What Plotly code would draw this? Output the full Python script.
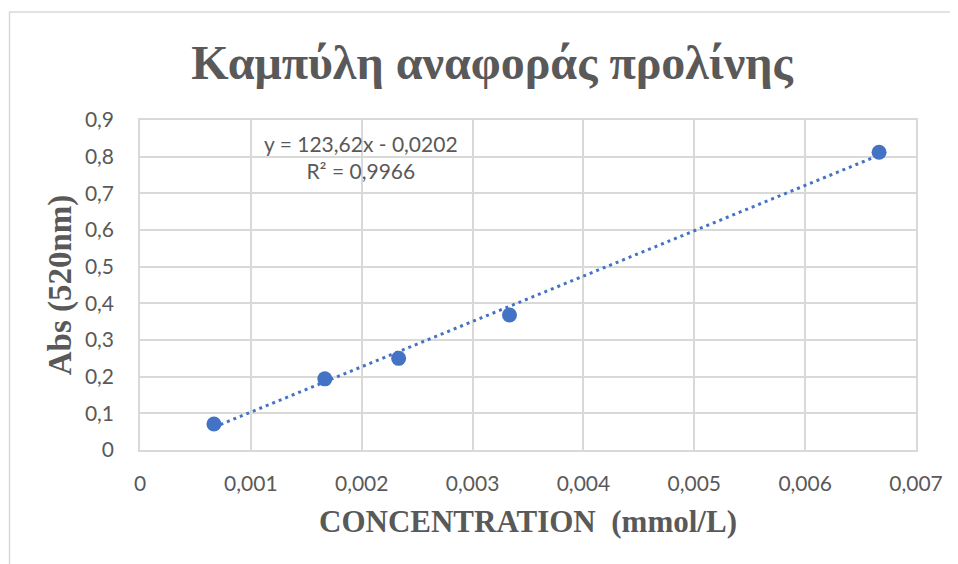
import plotly.graph_objects as go

# Data
concentration = [0.000667, 0.001667, 0.002333, 0.003333, 0.006667]
absorbance = [0.071, 0.194, 0.250, 0.368, 0.812]
slope = 123.62
intercept = -0.0202
x_ticks = [0, 0.001, 0.002, 0.003, 0.004, 0.005, 0.006, 0.007]
x_tick_labels = ["0", "0,001", "0,002", "0,003", "0,004", "0,005", "0,006", "0,007"]
y_ticks = [0, 0.1, 0.2, 0.3, 0.4, 0.5, 0.6, 0.7, 0.8, 0.9]
y_tick_labels = ["0", "0,1", "0,2", "0,3", "0,4", "0,5", "0,6", "0,7", "0,8", "0,9"]

title_text = "Καμπύλη αναφοράς προλίνης"
x_title = "CONCENTRATION  (mmol/L)"
y_title = "Abs (520nm)"
eq_text = "y = 123,62x - 0,0202<br>R² = 0,9966"

trend_x = [min(concentration), max(concentration)]
trend_y = [slope * v + intercept for v in trend_x]

blue = "#4472C4"
grey_text = "#595959"
grid = "#D9D9D9"
tick_font = dict(family="Lato, Open Sans, sans-serif", size=21, color=grey_text)
serif = "Liberation Serif, Times New Roman, serif"

fig = go.Figure()
fig.add_trace(go.Scatter(x=trend_x, y=trend_y, mode="lines",
                         line=dict(color=blue, width=3, dash="3px,4px"),
                         hoverinfo="skip", showlegend=False))
fig.add_trace(go.Scatter(x=concentration, y=absorbance, mode="markers",
                         marker=dict(color=blue, size=15), showlegend=False))

OFF = 8  # page body margin
W, H = 958 - OFF, 564 - OFF
L, R, T, B = 140 - OFF, 42, 120 - OFF, 114
pw, ph = W - L - R, H - T - B

def px_x(page_x):
    return (page_x - OFF - L) / pw

def px_y(page_y):
    return 1 - (page_y - OFF - T) / ph

fig.update_layout(
    width=W, height=H,
    margin=dict(l=L, r=R, t=T, b=B),
    paper_bgcolor="white", plot_bgcolor="white",
    title=dict(text="<b>" + title_text + "</b>", x=(492 - OFF) / W, xanchor="center",
               y=1 - (62 - OFF) / H, yanchor="middle",
               font=dict(family=serif, size=48, color=grey_text)),
    xaxis=dict(range=[0, 0.007], tickvals=x_ticks, ticktext=x_tick_labels,
               showgrid=True, gridcolor=grid, gridwidth=1.5, zeroline=False,
               showline=True, linecolor=grid, linewidth=1.5, mirror=True,
               ticks="", tickfont=tick_font, ticklabelstandoff=14,
               title=dict(text="<b>" + x_title + "</b>",
                          font=dict(family=serif, size=31, color=grey_text), standoff=16)),
    yaxis=dict(range=[0, 0.9], tickvals=y_ticks, ticktext=y_tick_labels,
               showgrid=True, gridcolor=grid, gridwidth=1.5, zeroline=False,
               showline=True, linecolor=grid, linewidth=1.5, mirror=True,
               ticks="", tickfont=tick_font, ticklabelstandoff=20,
               title=dict(text="<b>" + y_title + "</b>",
                          font=dict(family=serif, size=33, color=grey_text), standoff=3)),
    annotations=[dict(text=eq_text, xref="paper", yref="paper",
                      x=px_x(361), y=px_y(157),
                      xanchor="center", yanchor="middle", showarrow=False,
                      align="center", font=dict(family="Lato, Open Sans, sans-serif", size=21, color=grey_text))],
    shapes=[dict(type="rect", xref="paper", yref="paper",
                 x0=px_x(9.5), x1=px_x(975),
                 y0=px_y(580), y1=px_y(12),
                 line=dict(color=grid, width=1.5), layer="below")],
)

fig.write_html("out.html")
